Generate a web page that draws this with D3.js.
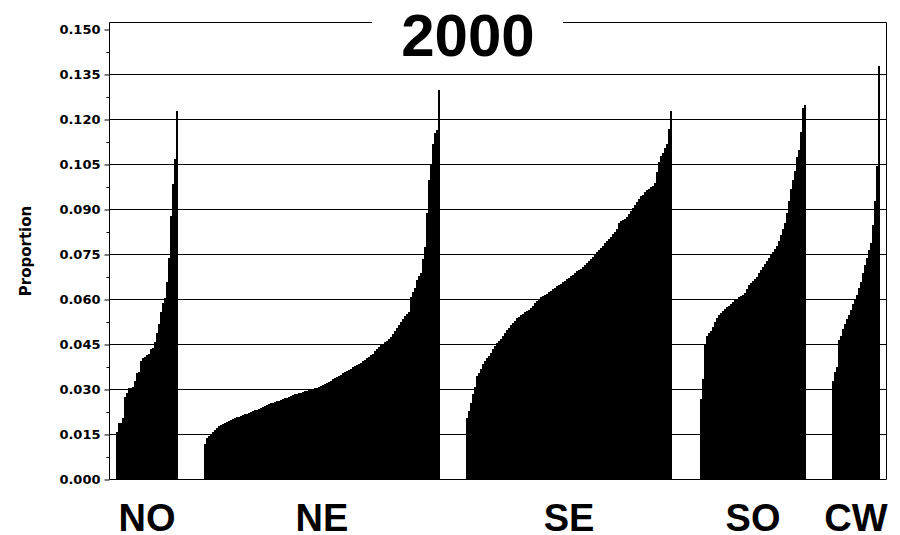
<!DOCTYPE html>
<html>
<head>
<meta charset="utf-8">
<script src="https://cdn.jsdelivr.net/npm/d3@7"></script>
<style>
  body { margin: 0; background: #fff; overflow: hidden; }
  svg { display: block; }
  .tick text { font-family: "DejaVu Sans", sans-serif; font-size: 13px; font-weight: bold; fill: #000; }
  .domain { display: none; }
</style>
</head>
<body>
<div id="chart"></div>
<script>
// sorted proportions per region (one bar ~ 2px)
const regions = ["NO", "NE", "SE", "SO", "CW"];

const valuesNO = [0.016, 0.0188, 0.019, 0.0205, 0.0275, 0.029, 0.0305, 0.0305, 0.031, 0.033,
  0.0355, 0.036, 0.0395, 0.0405, 0.041, 0.0415, 0.042, 0.0435, 0.044, 0.046,
  0.049, 0.052, 0.056, 0.059, 0.0605, 0.066, 0.074, 0.088, 0.0985, 0.107, 0.123];

const valuesNE = [0.012, 0.0137, 0.0145, 0.0152, 0.016, 0.0166, 0.0172, 0.0178, 0.0182, 0.0186,
  0.019, 0.0193, 0.0196, 0.0199, 0.0202, 0.0205, 0.0208, 0.021, 0.0213, 0.0215,
  0.0218, 0.022, 0.0223, 0.0226, 0.0228, 0.0231, 0.0233, 0.0236, 0.0239, 0.0242,
  0.0245, 0.0248, 0.0251, 0.0254, 0.0256, 0.0258, 0.0261, 0.0263, 0.0266, 0.0268,
  0.0271, 0.0273, 0.0276, 0.0278, 0.0281, 0.0284, 0.0286, 0.0288, 0.029, 0.0292,
  0.0294, 0.0296, 0.0298, 0.03, 0.0302, 0.0304, 0.0306, 0.0309, 0.0312, 0.0315,
  0.0318, 0.0322, 0.0326, 0.033, 0.0334, 0.0338, 0.0342, 0.0346, 0.035, 0.0354,
  0.0358, 0.0362, 0.0366, 0.037, 0.0374, 0.0378, 0.0382, 0.0386, 0.039, 0.0395,
  0.04, 0.0405, 0.041, 0.0415, 0.042, 0.0428, 0.0436, 0.0443, 0.0448, 0.0453,
  0.0458, 0.0462, 0.0468, 0.0475, 0.0485, 0.0495, 0.0505, 0.0515, 0.0525, 0.0535,
  0.0545, 0.0552, 0.0558, 0.061, 0.0625, 0.064, 0.0665, 0.068, 0.069, 0.0735,
  0.0775, 0.089, 0.1, 0.105, 0.112, 0.1155, 0.1165, 0.130];

const valuesSE = [0.0205, 0.023, 0.0255, 0.0285, 0.031, 0.0345, 0.0355, 0.037, 0.0385, 0.0395,
  0.0405, 0.0412, 0.0422, 0.0435, 0.0446, 0.0455, 0.0462, 0.047, 0.0478, 0.0489,
  0.0498, 0.0506, 0.0514, 0.0522, 0.053, 0.0537, 0.0543, 0.0548, 0.0553, 0.0558,
  0.0562, 0.0566, 0.0572, 0.058, 0.0588, 0.0595, 0.0602, 0.0608, 0.0612, 0.0616,
  0.062, 0.0626, 0.063, 0.0634, 0.064, 0.0645, 0.0649, 0.0653, 0.0658, 0.0663,
  0.0668, 0.0672, 0.0677, 0.0682, 0.0688, 0.0694, 0.0699, 0.0703, 0.071, 0.0716,
  0.0723, 0.073, 0.0736, 0.0743, 0.075, 0.0757, 0.0765, 0.0772, 0.078, 0.0788,
  0.0795, 0.0802, 0.081, 0.0818, 0.0825, 0.0835, 0.0855, 0.0862, 0.0866, 0.087,
  0.0875, 0.0885, 0.0895, 0.0905, 0.0915, 0.0925, 0.0935, 0.0945, 0.095, 0.0958,
  0.0965, 0.097, 0.0975, 0.098, 0.099, 0.1025, 0.106, 0.108, 0.109, 0.1105,
  0.112, 0.117, 0.123];

const valuesSO = [0.027, 0.0335, 0.045, 0.0478, 0.0488, 0.0495, 0.051, 0.0525, 0.054, 0.0548,
  0.0556, 0.0562, 0.0568, 0.0575, 0.058, 0.0586, 0.0592, 0.0598, 0.0603, 0.0608,
  0.0612, 0.0616, 0.0622, 0.0635, 0.0648, 0.0655, 0.0662, 0.0668, 0.0675, 0.0688,
  0.07, 0.071, 0.072, 0.073, 0.074, 0.075, 0.0758, 0.0768, 0.078, 0.0795,
  0.0815, 0.0835, 0.0855, 0.089, 0.093, 0.097, 0.1, 0.103, 0.1075, 0.11,
  0.116, 0.1237, 0.125];

const valuesCW = [0.033, 0.036, 0.0375, 0.0465, 0.048, 0.0502, 0.052, 0.0535, 0.055, 0.0565,
  0.0585, 0.06, 0.0615, 0.064, 0.066, 0.069, 0.0715, 0.074, 0.0765, 0.079,
  0.085, 0.093, 0.1045, 0.138];

const yTickValues = [0.000, 0.015, 0.030, 0.045, 0.060, 0.075, 0.090, 0.105, 0.120, 0.135, 0.150];
const gridValues = [0.015, 0.030, 0.045, 0.060, 0.075, 0.090, 0.105, 0.120, 0.135];
const titleText = "2000";
const yLabel = "Proportion";

const series = [valuesNO, valuesNE, valuesSE, valuesSO, valuesCW];

// layout in bar slots
const padLeft = 3.5, padRight = 3;
const gapSlots = [13, 13, 14, 13];

const width = 900, height = 535;
const plot = { left: 109.5, right: 886.5, top: 22.5, bottom: 479.5 };

const starts = [];
let cursor = padLeft;
series.forEach((s, k) => {
    starts.push(cursor);
    cursor += s.length + (k < gapSlots.length ? gapSlots[k] : 0);
});
const totalSlots = cursor + padRight;

const x = d3.scaleLinear()
    .domain([0, totalSlots])
    .range([109, 886]);

const y = d3.scaleLinear()
    .domain([0, 0.150])
    .range([479.5, 29.5]);

const svg = d3.select("#chart").append("svg")
    .attr("width", width)
    .attr("height", height);

// gridlines
svg.append("g").selectAll("line")
    .data(gridValues)
    .enter().append("line")
    .attr("x1", plot.left)
    .attr("x2", plot.right)
    .attr("y1", d => y(d))
    .attr("y2", d => y(d))
    .attr("stroke", "#000")
    .attr("stroke-width", 1);

// bars
var bars = [];
series.forEach((s, k) => {
    s.forEach((v, i) => bars.push({ region: regions[k], slot: starts[k] + i, value: v }));
});

svg.append("g")
    .attr("shape-rendering", "crispEdges")
  .selectAll("rect")
    .data(bars)
    .enter().append("rect")
    .attr("x", d => x(d.slot))
    .attr("width", d => x(d.slot + 1) - x(d.slot))
    .attr("y", d => y(d.value))
    .attr("height", d => y(0) - y(d.value))
    .attr("fill", "#000");

// frame, drawn as four lines
var frame = svg.append("g").attr("stroke", "#000").attr("stroke-width", 1);
frame.append("line").attr("x1", plot.left).attr("x2", plot.right).attr("y1", plot.top).attr("y2", plot.top);
frame.append("line").attr("x1", plot.left).attr("x2", plot.right).attr("y1", plot.bottom).attr("y2", plot.bottom);
frame.append("line").attr("x1", plot.left).attr("x2", plot.left).attr("y1", plot.top).attr("y2", plot.bottom);
frame.append("line").attr("x1", plot.right).attr("x2", plot.right).attr("y1", plot.top).attr("y2", plot.bottom);

// y axis with major and minor ticks
var yAxis = d3.axisLeft(y)
    .tickValues(yTickValues)
    .tickFormat(d3.format(".3f"))
    .tickSize(5)
    .tickPadding(4);

svg.append("g")
    .attr("transform", "translate(" + plot.left + ",0)")
    .call(yAxis);

var minorTicks = yTickValues.slice(1).map((d, i) => (d + yTickValues[i]) / 2);
svg.append("g")
    .attr("transform", "translate(" + plot.left + ",0)")
    .call(d3.axisLeft(y).tickValues(minorTicks).tickSize(3).tickFormat(""));

// y label
svg.append("text")
    .attr("transform", "translate(31,251) rotate(-90)")
    .attr("text-anchor", "middle")
    .style("font-family", "DejaVu Sans, sans-serif")
    .style("font-weight", "bold")
    .style("font-size", "15px")
    .text(yLabel);

// title over the top frame line
svg.append("rect")
    .attr("x", 372)
    .attr("y", 10)
    .attr("width", 191)
    .attr("height", 50)
    .attr("fill", "#fff");

svg.append("text")
    .attr("x", 468)
    .attr("y", 56)
    .attr("text-anchor", "middle")
    .style("font-family", "Liberation Sans, Arial, sans-serif")
    .style("font-weight", "bold")
    .style("font-size", "60px")
    .text(titleText);

// region labels centred under each group
svg.append("g").selectAll("text")
    .data(regions)
    .enter().append("text")
    .attr("x", (d, k) => (x(starts[k]) + x(starts[k] + series[k].length)) / 2)
    .attr("y", 531)
    .attr("text-anchor", "middle")
    .style("font-family", "Liberation Sans, Arial, sans-serif")
    .style("font-weight", "bold")
    .style("font-size", "38px")
    .text(d => d);
</script>
</body>
</html>
